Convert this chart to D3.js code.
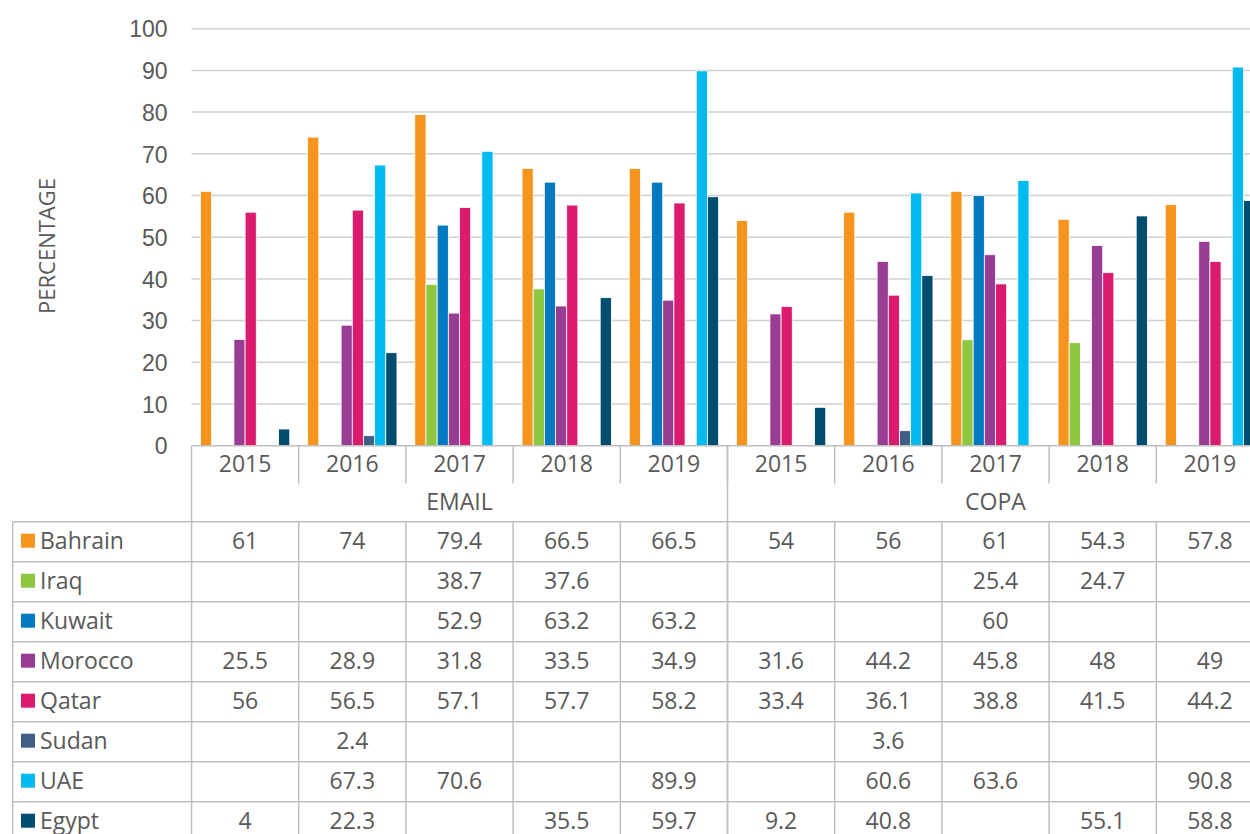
<!DOCTYPE html>
<html>
<head>
<meta charset="utf-8">
<script src="https://cdn.jsdelivr.net/npm/d3@7"></script>
<style>
  body { margin: 0; background: #fff; }
  svg { display: block; font-family: "Open Sans", "Noto Sans", sans-serif; }
</style>
</head>
<body>
<div id="chart"></div>
<script>
// Data
const groups = ["EMAIL", "COPA"];
const years = ["2015", "2016", "2017", "2018", "2019"];
const countries = ["Bahrain", "Iraq", "Kuwait", "Morocco", "Qatar", "Sudan", "UAE", "Egypt"];
const colors = ["#F7941D", "#8DC63F", "#0079C1", "#973E94", "#DA1B6E", "#3F5E86", "#00BAF0", "#004D6F"];
// values: EMAIL 2015..2019 then COPA 2015..2019 (null = no value)
const bahrain = [61, 74, 79.4, 66.5, 66.5, 54, 56, 61, 54.3, 57.8];
const iraq    = [null, null, 38.7, 37.6, null, null, null, 25.4, 24.7, null];
const kuwait  = [null, null, 52.9, 63.2, 63.2, null, null, 60, null, null];
const morocco = [25.5, 28.9, 31.8, 33.5, 34.9, 31.6, 44.2, 45.8, 48, 49];
const qatar   = [56, 56.5, 57.1, 57.7, 58.2, 33.4, 36.1, 38.8, 41.5, 44.2];
const sudan   = [null, 2.4, null, null, null, null, 3.6, null, null, null];
const uae     = [null, 67.3, 70.6, null, 89.9, null, 60.6, 63.6, null, 90.8];
const egypt   = [4, 22.3, null, 35.5, 59.7, 9.2, 40.8, null, 55.1, 58.8];
const series = [bahrain, iraq, kuwait, morocco, qatar, sudan, uae, egypt];
const yTicks = [0, 10, 20, 30, 40, 50, 60, 70, 80, 90, 100];

const width = 1250, height = 834;
const left = 191.5, groupW = 107.2;
const lineColor = "#bfbfbf", textColor = "#595959";
const fs = "23px";

const svg = d3.select("#chart").append("svg")
  .attr("width", width).attr("height", height);

// columns: group/year pairs
const cols = [];
groups.forEach(g => years.forEach(y => cols.push(g + "|" + y)));

const x0 = d3.scaleBand().domain(cols).range([left, left + groupW * cols.length]);
const x1 = d3.scaleBand().domain(countries).range([0, x0.bandwidth()]).paddingOuter(0.8);
const y = d3.scaleLinear().domain([0, 100]).range([445.7, 28.7]);
const color = d3.scaleOrdinal().domain(countries).range(colors);

// gridlines
svg.append("g").selectAll("line").data(yTicks.slice(1)).join("line")
  .attr("x1", left).attr("x2", width)
  .attr("y1", d => y(d)).attr("y2", d => y(d))
  .attr("stroke", "#d0d0d0").attr("stroke-width", 1.5);

// y axis labels
const yAxis = svg.append("g").attr("transform", `translate(${left - 24},0)`)
  .call(d3.axisLeft(y).tickValues(yTicks).tickSize(0).tickPadding(0));
yAxis.select(".domain").remove();
yAxis.selectAll("text").attr("fill", textColor).style("font-size", fs)
  .attr("dy", "0.36em");

svg.append("text")
  .attr("transform", "translate(55,246) rotate(-90)")
  .attr("text-anchor", "middle")
  .attr("fill", textColor).style("font-size", "22px")
  .text("PERCENTAGE");

// bars
const cells = [];
series.forEach((vals, i) => vals.forEach((v, j) => {
  if (v != null) cells.push({ country: countries[i], col: cols[j], value: v });
}));
svg.append("g").selectAll("rect").data(cells).join("rect")
  .attr("x", d => x0(d.col) + x1(d.country))
  .attr("y", d => y(d.value))
  .attr("width", x1.bandwidth())
  .attr("height", d => y(0) - y(d.value))
  .attr("fill", d => color(d.country))
  .attr("stroke", "#fff").attr("stroke-width", 0.8);

// axis baseline
svg.append("line").attr("x1", left).attr("x2", width)
  .attr("y1", y(0)).attr("y2", y(0))
  .attr("stroke", lineColor).attr("stroke-width", 1.5);

// data table
const tbl = svg.append("g");
const yearTop = 446, catTop = 483.5, rowTop = 521.7, rowH = 40;
const tableRight = left + groupW * cols.length;

// year labels
tbl.selectAll(".yr").data(cols).join("text")
  .attr("x", d => x0(d) + x0.bandwidth() / 2).attr("y", 464)
  .attr("dy", "0.36em").attr("text-anchor", "middle")
  .attr("fill", textColor).style("font-size", fs)
  .text(d => d.split("|")[1]);

// group labels
tbl.selectAll(".grp").data(groups).join("text")
  .attr("x", (d, i) => left + groupW * years.length * (i + 0.5)).attr("y", 502)
  .attr("dy", "0.36em").attr("text-anchor", "middle")
  .attr("fill", textColor).style("font-size", fs)
  .text(d => d);

// vertical lines in year row
tbl.selectAll(".vy").data(cols.slice(1)).join("line")
  .attr("x1", d => x0(d)).attr("x2", d => x0(d))
  .attr("y1", yearTop).attr("y2", catTop)
  .attr("stroke", lineColor).attr("stroke-width", 1.5);

// vertical lines full height: left, group divider, right
[left, left + groupW * years.length, tableRight].forEach(xv => {
  tbl.append("line").attr("x1", xv).attr("x2", xv)
    .attr("y1", yearTop).attr("y2", height)
    .attr("stroke", lineColor).attr("stroke-width", 1.5);
});

// vertical lines in data rows
tbl.selectAll(".vr").data(cols.slice(1)).join("line")
  .attr("x1", d => x0(d)).attr("x2", d => x0(d))
  .attr("y1", rowTop).attr("y2", height)
  .attr("stroke", lineColor).attr("stroke-width", 1.5);
tbl.append("line").attr("x1", 12.7).attr("x2", 12.7)
  .attr("y1", rowTop).attr("y2", height)
  .attr("stroke", lineColor).attr("stroke-width", 1.5);

// horizontal row lines
tbl.selectAll(".hr").data(d3.range(countries.length + 1)).join("line")
  .attr("x1", 12.7).attr("x2", tableRight)
  .attr("y1", d => rowTop + d * rowH).attr("y2", d => rowTop + d * rowH)
  .attr("stroke", lineColor).attr("stroke-width", 1.5);

// rows
countries.forEach((c, i) => {
  const cy = rowTop + i * rowH + rowH / 2 - 1;
  tbl.append("rect").attr("x", 21).attr("y", cy - 7)
    .attr("width", 14).attr("height", 14).attr("fill", color(c));
  tbl.append("text").attr("x", 40).attr("y", cy).attr("dy", "0.36em")
    .attr("fill", textColor).style("font-size", fs).text(c);
  tbl.append("g").selectAll("text").data(series[i]).join("text")
    .attr("x", (d, j) => x0(cols[j]) + x0.bandwidth() / 2)
    .attr("y", cy).attr("dy", "0.36em").attr("text-anchor", "middle")
    .attr("fill", textColor).style("font-size", fs)
    .text(d => d == null ? "" : d);
});
</script>
</body>
</html>
